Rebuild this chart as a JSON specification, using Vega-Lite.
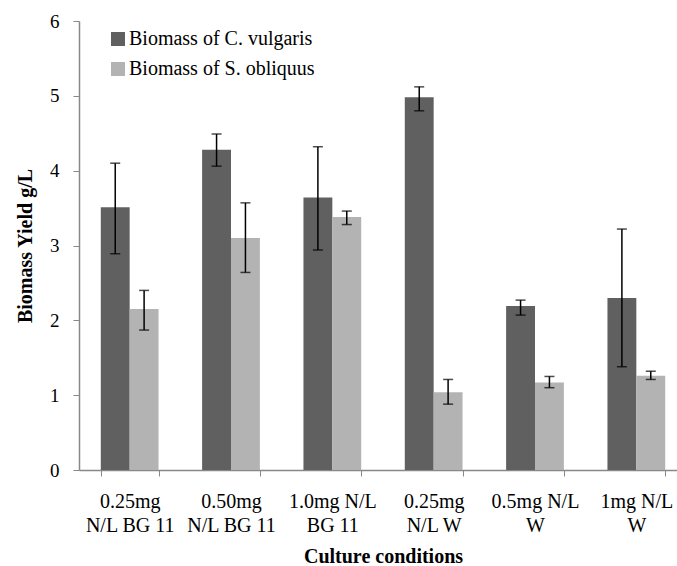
{
  "$schema": "https://vega.github.io/schema/vega-lite/v6.json",
  "width": 608,
  "height": 449,
  "autosize": {"type": "none"},
  "padding": {"left": 79, "top": 21, "right": 0, "bottom": 96},
  "background": "white",
  "config": {
    "font": "Liberation Serif",
    "view": {"stroke": null}
  },
  "data": {
    "values": [
      {"cond": "0.25mg|N/L BG 11", "series": "Biomass of C. vulgaris", "value": 3.51, "lo": 2.89, "hi": 4.10},
      {"cond": "0.25mg|N/L BG 11", "series": "Biomass of S. obliquus", "value": 2.15, "lo": 1.87, "hi": 2.40},
      {"cond": "0.50mg|N/L BG 11", "series": "Biomass of C. vulgaris", "value": 4.28, "lo": 4.06, "hi": 4.49},
      {"cond": "0.50mg|N/L BG 11", "series": "Biomass of S. obliquus", "value": 3.10, "lo": 2.64, "hi": 3.57},
      {"cond": "1.0mg N/L|BG 11", "series": "Biomass of C. vulgaris", "value": 3.64, "lo": 2.94, "hi": 4.32},
      {"cond": "1.0mg N/L|BG 11", "series": "Biomass of S. obliquus", "value": 3.38, "lo": 3.28, "hi": 3.46},
      {"cond": "0.25mg|N/L W", "series": "Biomass of C. vulgaris", "value": 4.98, "lo": 4.80, "hi": 5.12},
      {"cond": "0.25mg|N/L W", "series": "Biomass of S. obliquus", "value": 1.04, "lo": 0.88, "hi": 1.21},
      {"cond": "0.5mg N/L|W", "series": "Biomass of C. vulgaris", "value": 2.19, "lo": 2.07, "hi": 2.27},
      {"cond": "0.5mg N/L|W", "series": "Biomass of S. obliquus", "value": 1.17, "lo": 1.10, "hi": 1.25},
      {"cond": "1mg N/L|W", "series": "Biomass of C. vulgaris", "value": 2.30, "lo": 1.38, "hi": 3.22},
      {"cond": "1mg N/L|W", "series": "Biomass of S. obliquus", "value": 1.26, "lo": 1.21, "hi": 1.32}
    ]
  },
  "encoding": {
    "x": {
      "field": "cond",
      "type": "nominal",
      "sort": null,
      "scale": {"paddingInner": 0.43, "paddingOuter": 0.215},
      "axis": {
        "title": "Culture conditions",
        "titleFont": "Liberation Serif",
        "titleFontSize": 20,
        "titleFontWeight": "bold",
        "titleColor": "black",
        "titlePadding": 11,
        "labelExpr": "split(datum.label, '|')",
        "labelAngle": 0,
        "labelFont": "Liberation Serif",
        "labelFontSize": 20,
        "labelColor": "black",
        "labelPadding": 15,
        "labelLineHeight": 24,
        "tickBand": "extent",
        "tickSize": 6,
        "tickColor": "#888888",
        "domainColor": "#888888",
        "domainWidth": 1.5
      }
    },
    "xOffset": {"field": "series", "type": "nominal", "scale": {"paddingInner": 0}}
  },
  "layer": [
    {
      "mark": {"type": "bar"},
      "encoding": {
        "y": {
          "field": "value",
          "type": "quantitative",
          "scale": {"domain": [0, 6]},
          "axis": {
            "title": "Biomass Yield g/L",
            "titleFont": "Liberation Serif",
            "titleFontSize": 20,
            "titleFontWeight": "bold",
            "titleColor": "black",
            "titlePadding": 14,
            "values": [0, 1, 2, 3, 4, 5, 6],
            "format": "d",
            "labelFont": "Liberation Serif",
            "labelFontSize": 19,
            "labelColor": "black",
            "labelPadding": 14,
            "grid": false,
            "tickSize": 6,
            "tickColor": "#888888",
            "domainColor": "#888888",
            "domainWidth": 1.5
          }
        },
        "color": {
          "field": "series",
          "type": "nominal",
          "scale": {"range": ["#606060", "#b3b3b3"]},
          "legend": {
            "title": null,
            "orient": "none",
            "legendX": 29,
            "legendY": 8,
            "symbolType": "square",
            "symbolSize": 196,
            "symbolStrokeWidth": 0,
            "labelFont": "Liberation Serif",
            "labelFontSize": 20,
            "labelColor": "black",
            "labelOffset": 1,
            "labelLimit": 400,
            "rowPadding": 10
          }
        }
      }
    },
    {
      "mark": {"type": "rule", "color": "black", "strokeWidth": 1.5},
      "encoding": {
        "y": {"field": "lo", "type": "quantitative"},
        "y2": {"field": "hi"}
      }
    },
    {
      "mark": {"type": "tick", "color": "black", "thickness": 1.5, "size": 10},
      "encoding": {
        "y": {"field": "lo", "type": "quantitative"}
      }
    },
    {
      "mark": {"type": "tick", "color": "black", "thickness": 1.5, "size": 10},
      "encoding": {
        "y": {"field": "hi", "type": "quantitative"}
      }
    }
  ]
}
